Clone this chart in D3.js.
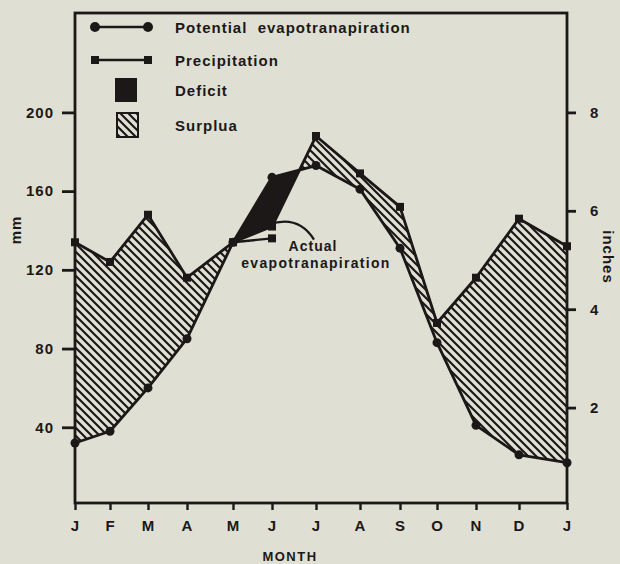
<!DOCTYPE html>
<html>
<head>
<meta charset="utf-8">
<script src="https://cdn.jsdelivr.net/npm/d3@7"></script>
<style>
  html, body { margin: 0; padding: 0; background: #dfe0d3; }
  svg { display: block; }
  text { font-family: "Liberation Sans", Arial, Helvetica, sans-serif; font-weight: bold; fill: #1c1818; letter-spacing: 1px; }
</style>
</head>
<body>
<div id="chart"></div>
<script>
// months along the bottom (J .. J, 13 points)
const months = ["J", "F", "M", "A", "M", "J", "J", "A", "S", "O", "N", "D", "J"];
// potential evapotranspiration, mm
const potentialET = [32, 38, 60, 85, 134, 167, 173, 161, 131, 83, 41, 26, 22];
// precipitation, mm
const precipitation = [134, 124, 148, 116, 134, 142, 188, 169, 152, 93, 116, 146, 132];
// actual evapotranspiration (only where it departs from PE), mm
const actualETMonths = [4, 5];
const actualET = [134, 136];

const mmTicks = [40, 80, 120, 160, 200];
const inchTicks = [2, 4, 6, 8];

const legendItems = [
  { key: "pe", label: "Potential  evapotranapiration" },
  { key: "precip", label: "Precipitation" },
  { key: "deficit", label: "Deficit" },
  { key: "surplus", label: "Surplua" }
];

const width = 620, height = 564;
const ink = "#1c1818";

const svg = d3.select("#chart").append("svg")
  .attr("width", width)
  .attr("height", height);

// hand-drawn month spacing of the original figure
const monthX = [75, 110, 148, 187, 233, 272, 316, 360, 400, 437, 476, 519, 567];
const x = d3.scaleLinear().domain(d3.range(months.length)).range(monthX);
const yMm = d3.scaleLinear().domain([0, 250]).range([506, 14]);
const yIn = d3.scaleLinear().domain([0, 10]).range([506, 14]);

const frame = { left: 75, right: 567, top: 13, bottom: 503 };

// hatch pattern for surplus
const defs = svg.append("defs");
defs.append("pattern")
  .attr("id", "hatch")
  .attr("patternUnits", "userSpaceOnUse")
  .attr("width", 8)
  .attr("height", 8)
  .append("path")
  .attr("d", "M0,0 L8,8 M-2,6 L2,10 M6,-2 L10,2")
  .attr("stroke", ink)
  .attr("stroke-width", 2.2);

// insert crossing points so the fills split exactly where the lines cross
let pts = [];
for (let i = 0; i < months.length; i++) {
  pts.push({ i: i, p: precipitation[i], e: potentialET[i] });
  if (i < months.length - 1) {
    const d0 = precipitation[i] - potentialET[i];
    const d1 = precipitation[i + 1] - potentialET[i + 1];
    if (d0 * d1 < 0) {
      const t = d0 / (d0 - d1);
      const v = potentialET[i] + t * (potentialET[i + 1] - potentialET[i]);
      pts.push({ i: i + t, p: v, e: v });
    }
  }
}

const surplusArea = d3.area()
  .x(d => x(d.i))
  .y0(d => yMm(d.e))
  .y1(d => yMm(Math.max(d.p, d.e)));

const deficitArea = d3.area()
  .x(d => x(d.i))
  .y0(d => yMm(d.p))
  .y1(d => yMm(Math.max(d.p, d.e)));

svg.append("path")
  .datum(pts)
  .attr("d", surplusArea)
  .attr("fill", "url(#hatch)");

svg.append("path")
  .datum(pts)
  .attr("d", deficitArea)
  .attr("fill", ink)
  .attr("stroke", ink)
  .attr("stroke-width", 1.5)
  .attr("stroke-linejoin", "round");

const line = d3.line()
  .x((d, i) => x(i))
  .y(d => yMm(d));

svg.append("path")
  .datum(precipitation)
  .attr("d", line)
  .attr("fill", "none")
  .attr("stroke", ink)
  .attr("stroke-width", 2.8)
  .attr("stroke-linejoin", "round");

svg.append("path")
  .datum(potentialET)
  .attr("d", line)
  .attr("fill", "none")
  .attr("stroke", ink)
  .attr("stroke-width", 2.8)
  .attr("stroke-linejoin", "round");

// actual evapotranspiration segment
svg.append("path")
  .datum(actualET)
  .attr("d", d3.line().x((d, i) => x(actualETMonths[i])).y(d => yMm(d)))
  .attr("fill", "none")
  .attr("stroke", ink)
  .attr("stroke-width", 2.4);

svg.selectAll(".aet-mark")
  .data(actualET.slice(1))
  .enter().append("rect")
  .attr("class", "aet-mark")
  .attr("x", (d, i) => x(actualETMonths[i + 1]) - 4)
  .attr("y", d => yMm(d) - 4)
  .attr("width", 8)
  .attr("height", 8)
  .attr("fill", ink);

// markers
svg.selectAll(".pe-mark")
  .data(potentialET)
  .enter().append("circle")
  .attr("class", "pe-mark")
  .attr("cx", (d, i) => x(i))
  .attr("cy", d => yMm(d))
  .attr("r", 4.5)
  .attr("fill", ink);

svg.selectAll(".pr-mark")
  .data(precipitation)
  .enter().append("rect")
  .attr("class", "pr-mark")
  .attr("x", (d, i) => x(i) - 4)
  .attr("y", d => yMm(d) - 4)
  .attr("width", 8)
  .attr("height", 8)
  .attr("fill", ink);

// frame
svg.append("rect")
  .attr("x", frame.left)
  .attr("y", frame.top)
  .attr("width", frame.right - frame.left)
  .attr("height", frame.bottom - frame.top)
  .attr("fill", "none")
  .attr("stroke", ink)
  .attr("stroke-width", 2.8);

// left axis (mm)
const leftAxis = svg.append("g")
  .attr("transform", `translate(${frame.left},0)`)
  .call(d3.axisLeft(yMm).tickValues(mmTicks).tickSize(13).tickPadding(8));
leftAxis.select(".domain").remove();
leftAxis.selectAll("line").attr("stroke", ink).attr("stroke-width", 2.8);
leftAxis.selectAll("text").attr("font-size", 15).style("font-family", null);

// right axis (inches)
const rightAxis = svg.append("g")
  .attr("transform", `translate(${frame.right},0)`)
  .call(d3.axisRight(yIn).tickValues(inchTicks).tickSize(9).tickPadding(14));
rightAxis.select(".domain").remove();
rightAxis.selectAll("line").attr("stroke", ink).attr("stroke-width", 2.8);
rightAxis.selectAll("text").attr("font-size", 15).style("font-family", null);

// bottom axis (months)
const bottomAxis = svg.append("g")
  .attr("transform", `translate(0,${frame.bottom})`)
  .call(d3.axisBottom(x).tickValues(d3.range(months.length)).tickFormat(i => months[i]).tickSize(7).tickPadding(10));
bottomAxis.select(".domain").remove();
bottomAxis.selectAll("line").attr("stroke", ink).attr("stroke-width", 2.4);
bottomAxis.selectAll("text").attr("font-size", 15).style("font-family", null);

svg.selectAll(".tick text").attr("fill", ink);

// axis titles
svg.append("text")
  .attr("transform", "translate(21,230) rotate(-90)")
  .attr("text-anchor", "middle")
  .attr("font-size", 15)
  .text("mm");

svg.append("text")
  .attr("transform", "translate(603,257) rotate(90)")
  .attr("text-anchor", "middle")
  .attr("font-size", 15)
  .text("inches");

svg.append("text")
  .attr("x", 290)
  .attr("y", 561)
  .attr("text-anchor", "middle")
  .attr("font-size", 13)
  .style("letter-spacing", "1.5px")
  .text("MONTH");

// annotation for actual evapotranspiration
const ax = x(5), ay = yMm(142);
svg.append("path")
  .attr("d", `M${ax - 3},${ay - 2} Q${ax + 26},${ay - 12} ${ax + 42},${ay + 13}`)
  .attr("fill", "none")
  .attr("stroke", ink)
  .attr("stroke-width", 2.2);

svg.append("text")
  .attr("x", 313)
  .attr("y", 251)
  .attr("text-anchor", "middle")
  .attr("font-size", 14)
  .text("Actual");

svg.append("text")
  .attr("x", 316)
  .attr("y", 268)
  .attr("text-anchor", "middle")
  .attr("font-size", 14)
  .style("letter-spacing", "1.3px")
  .text("evapotranapiration");

// legend
const legend = svg.append("g").attr("transform", "translate(95,0)");
const rowY = [27, 60, 90, 125];

legend.selectAll(".leg-text")
  .data(legendItems)
  .enter().append("text")
  .attr("class", "leg-text")
  .attr("x", 80)
  .attr("y", (d, i) => rowY[i] + 6)
  .attr("font-size", 15)
  .style("white-space", "pre")
  .text(d => d.label);

legend.append("line")
  .attr("x1", 0).attr("x2", 53)
  .attr("y1", rowY[0]).attr("y2", rowY[0])
  .attr("stroke", ink).attr("stroke-width", 2.4);
legend.selectAll(".leg-dot")
  .data([0, 53])
  .enter().append("circle")
  .attr("cx", d => d).attr("cy", rowY[0]).attr("r", 5)
  .attr("fill", ink);

legend.append("line")
  .attr("x1", 0).attr("x2", 53)
  .attr("y1", rowY[1]).attr("y2", rowY[1])
  .attr("stroke", ink).attr("stroke-width", 2.4);
legend.selectAll(".leg-sq")
  .data([0, 53])
  .enter().append("rect")
  .attr("x", d => d - 4).attr("y", rowY[1] - 4)
  .attr("width", 8).attr("height", 8)
  .attr("fill", ink);

legend.append("rect")
  .attr("x", 20).attr("y", rowY[2] - 12)
  .attr("width", 22).attr("height", 24)
  .attr("fill", ink);

legend.append("rect")
  .attr("x", 22).attr("y", rowY[3] - 12)
  .attr("width", 21).attr("height", 24)
  .attr("fill", "url(#hatch)")
  .attr("stroke", ink)
  .attr("stroke-width", 2);
</script>
</body>
</html>
